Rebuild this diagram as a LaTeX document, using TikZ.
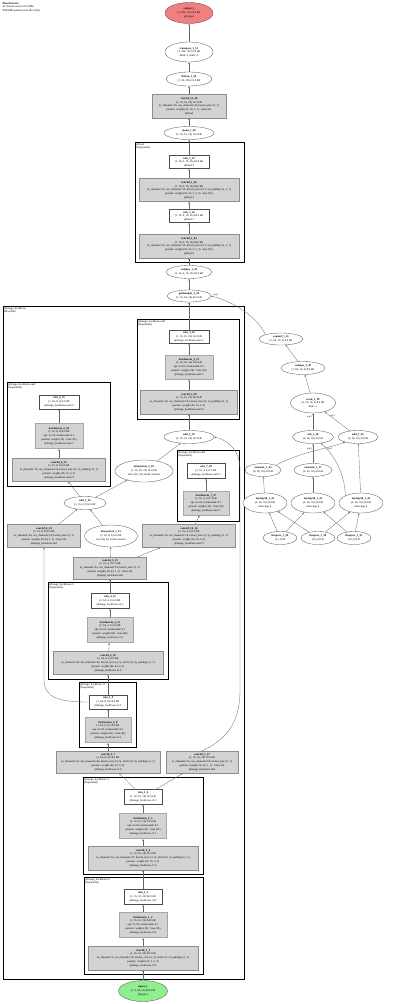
\documentclass[tikz,border=0pt]{standalone}
\usepackage{fontspec}
\setmainfont{Liberation Serif}
\usetikzlibrary{shapes.geometric,arrows.meta}
\definecolor{outred}{HTML}{F08080}
\definecolor{ingreen}{HTML}{90EE90}
\definecolor{nodegray}{HTML}{D3D3D3}
\begin{document}
\begin{tikzpicture}[x=1pt,y=-1pt,
  txt/.style={font=\fontsize{2.8}{3.7}\selectfont, align=center, inner sep=0pt},
  ell/.style={ellipse, draw=black!70, line width=0.3pt, fill=white, inner sep=0pt},
  wbox/.style={rectangle, draw=black!70, line width=0.3pt, fill=white, inner sep=0pt},
  gbox/.style={rectangle, draw=black!45, line width=0.3pt, fill=nodegray, inner sep=0pt},
  bnbox/.style={rectangle, draw=black!35, line width=1pt, fill=nodegray, inner sep=0pt},
  clus/.style={draw=black, line width=0.9pt},
  clab/.style={font=\fontsize{2.8}{3.3}\selectfont, anchor=north west, inner sep=0.4pt, align=left},
  conn/.style={draw=black!60, line width=0.3pt, -{Stealth[length=2pt,width=1.6pt]}},
  elab/.style={font=\fontsize{2.4}{3}\selectfont, inner sep=0.3pt}
]
\useasboundingbox (0,0) rectangle (400,1004);
% header
\node[clab] (hdr) at (2,2) {\textbf{FlowDetector}\\41 tensors total (1.015 MB)\\PARAMS params total (85.3 kB)};

% clusters
\draw[clus] (135,142) rectangle (244,262);
\node[clab] (lhead) at (135.5,142.5) {@head\\(Sequential)};
\draw[clus] (3,306) rectangle (244,979);
\node[clab] (lbb) at (3.5,306.5) {@image\_backbone\\(FlowNet)};
\draw[clus] (137,319) rectangle (239,419);
\node[clab] (lo3) at (137.5,319.5) {@image\_backbone.out3\\(Sequential)};
\draw[clus] (7,382) rectangle (110,486);
\node[clab] (lo4) at (7.5,382.5) {@image\_backbone.out4\\(Sequential)};
\draw[clus] (177,450) rectangle (239,521);
\node[clab] (lo2) at (177.5,450.5) {@image\_backbone.out2\\(Sequential)};
\draw[clus] (48,582) rectangle (168,679);
\node[clab] (lc3) at (48.5,582.5) {@image\_backbone.c3\\(Sequential)};
\draw[clus] (79,682) rectangle (136,747);
\node[clab] (lc2) at (79.5,682.5) {@image\_backbone.c2\\(Sequential)};
\draw[clus] (83,777) rectangle (203,874);
\node[clab] (lc1) at (83.5,777.5) {@image\_backbone.c1\\(Sequential)};
\draw[clus] (84,877) rectangle (203,974);
\node[clab] (lc0) at (84.5,877.5) {@image\_backbone.c0\\(Sequential)};

% spine top
\node[ell, fill=outred, minimum width=48, minimum height=21, label={[txt]center:{\textbf{output\_1}\\(1, 256, 32) 12.0 kB\\@output}}] (out) at (189,13) {};
\node[ell, minimum width=48, minimum height=20, label={[txt]center:{\textbf{transpose\_1\_51}\\(1, 256, 32) 12.0 kB\\dim0=1, dim1=2}}] (tr) at (189,52) {};
\node[ell, minimum width=46, minimum height=14, label={[txt]center:{\textbf{flatten\_1\_50}\\(1, 32, 256) 12.0 kB}}] (fl) at (189,79) {};
\node[gbox, minimum width=74, minimum height=24, label={[txt]center:{\textbf{conv2d\_51\_49}\\(1, 32, 16, 16) 12.0 kB\\in\_channels=16, out\_channels=32, kernel\_size=(1, 1)\\params: weight (32, 16, 1, 1) · bias (32)\\@head}}] (cv51) at (189,106) {};
\node[ell, minimum width=50, minimum height=13, label={[txt]center:{\textbf{mean\_1\_48}\\(1, 16, 16, 16) 16.0 kB}}] (mean) at (189,133) {};
\node[wbox, minimum width=40, minimum height=13, label={[txt]center:{\textbf{relu\_1\_47}\\(1, 16, 4, 16, 16) 64.0 kB\\@head.3}}] (r47) at (189,162) {};
\node[gbox, minimum width=100, minimum height=23, label={[txt]center:{\textbf{conv3d\_1\_46}\\(1, 16, 4, 16, 16) 64.0 kB\\in\_channels=16, out\_channels=16, kernel\_size=(3, 3, 3), padding=(1, 1, 1)\\params: weight (16, 16, 3, 3, 3) · bias (16)\\@head.2}}] (c46) at (189,190) {};
\node[wbox, minimum width=40, minimum height=13, label={[txt]center:{\textbf{relu\_1\_45}\\(1, 16, 4, 16, 16) 64.0 kB\\@head.1}}] (r45) at (189,216) {};
\node[gbox, minimum width=100, minimum height=24, label={[txt]center:{\textbf{conv3d\_1\_44}\\(1, 16, 4, 16, 16) 64.0 kB\\in\_channels=16, out\_channels=16, kernel\_size=(3, 3, 3), padding=(1, 1, 1)\\params: weight (16, 16, 3, 3, 3) · bias (16)\\@head.0}}] (c44) at (189,246) {};
\node[ell, minimum width=46, minimum height=13, label={[txt]center:{\textbf{reshape\_1\_43}\\(1, 16, 4, 16, 16) 64.0 kB}}] (rs43) at (189,272) {};
\node[ell, minimum width=44, minimum height=12, label={[txt]center:{\textbf{gridsample\_1\_42}\\(1, 16, 64, 16) 64.0 kB}}] (g42) at (189,296) {};

% out3
\node[wbox, minimum width=40, minimum height=13, label={[txt]center:{\textbf{relu\_3\_22}\\(1, 16, 16, 16) 16.0 kB\\@image\_backbone.out3.2}}] (r322) at (189,337) {};
\node[bnbox, minimum width=48, minimum height=24, label={[txt]center:{\textbf{batchnorm\_3\_21}\\(1, 16, 16, 16) 16.0 kB\\eps=1e-05, momentum=0.1\\params: weight (16) · bias (16)\\@image\_backbone.out3.1}}] (bn321) at (189,367) {};
\node[gbox, minimum width=97, minimum height=24, label={[txt]center:{\textbf{conv2d\_3\_20}\\(1, 16, 16, 16) 16.0 kB\\in\_channels=16, out\_channels=16, kernel\_size=(3, 3), padding=(1, 1)\\params: weight (16, 16, 3, 3)\\@image\_backbone.out3.0}}] (c320) at (189,402) {};
\node[ell, minimum width=50, minimum height=13, label={[txt]center:{\textbf{add\_2\_19}\\(1, 16, 16, 16) 16.0 kB}}] (a219) at (189,437) {};

% out4
\node[wbox, minimum width=40, minimum height=14, label={[txt]center:{\textbf{relu\_6\_25}\\(1, 16, 8, 8) 4.0 kB\\@image\_backbone.out4.2}}] (r625) at (59,402) {};
\node[bnbox, minimum width=48, minimum height=25, label={[txt]center:{\textbf{batchnorm\_6\_24}\\(1, 16, 8, 8) 4.0 kB\\eps=1e-05, momentum=0.1\\params: weight (16) · bias (16)\\@image\_backbone.out4.1}}] (bn624) at (59,436) {};
\node[gbox, minimum width=93, minimum height=23, label={[txt]center:{\textbf{conv2d\_6\_23}\\(1, 16, 8, 8) 4.0 kB\\in\_channels=16, out\_channels=16, kernel\_size=(3, 3), padding=(1, 1)\\params: weight (16, 16, 3, 3)\\@image\_backbone.out4.0}}] (c623) at (59,470) {};

% out2
\node[wbox, minimum width=38, minimum height=15, label={[txt]center:{\textbf{relu\_7\_28}\\(1, 16, 4, 4) 1.0 kB\\@image\_backbone.out2.2}}] (r728) at (206,471) {};
\node[bnbox, minimum width=46, minimum height=24, label={[txt]center:{\textbf{batchnorm\_7\_27}\\(1, 16, 4, 4) 1.0 kB\\eps=1e-05, momentum=0.1\\params: weight (16) · bias (16)\\@image\_backbone.out2.1}}] (bn727) at (206,503) {};

\node[ell, minimum width=58, minimum height=22, label={[txt]center:{\textbf{interpolate\_2\_18}\\(1, 16, 16, 16) 16.0 kB\\size=(16, 16), mode=nearest}}] (i218) at (144,471) {};
\node[ell, minimum width=42, minimum height=13, label={[txt]center:{\textbf{add\_1\_16}\\(1, 16, 8, 8) 4.0 kB}}] (a116) at (85,503) {};
\node[gbox, minimum width=73, minimum height=23, label={[txt]center:{\textbf{conv2d\_6\_14}\\(1, 16, 8, 8) 4.0 kB\\in\_channels=64, out\_channels=16, kernel\_size=(1, 1)\\params: weight (16, 64, 1, 1) · bias (16)\\@image\_backbone.lat1}}] (c614) at (44,536) {};
\node[ell, minimum width=53, minimum height=22, label={[txt]center:{\textbf{interpolate\_1\_15}\\(1, 16, 8, 8) 4.0 kB\\size=(8, 8), mode=nearest}}] (i115) at (111,536) {};
\node[gbox, minimum width=93, minimum height=23, label={[txt]center:{\textbf{conv2d\_10\_16}\\(1, 16, 4, 4) 1.0 kB\\in\_channels=16, out\_channels=16, kernel\_size=(3, 3), padding=(1, 1)\\params: weight (16, 16, 3, 3)\\@image\_backbone.out2.0}}] (c1016) at (189,536) {};
\node[gbox, minimum width=73, minimum height=22, label={[txt]center:{\textbf{conv2d\_5\_13}\\(1, 16, 4, 4) 1.0 kB\\in\_channels=64, out\_channels=16, kernel\_size=(1, 1)\\params: weight (16, 64, 1, 1) · bias (16)\\@image\_backbone.lat2}}] (c513) at (110,568) {};

% c3
\node[wbox, minimum width=38, minimum height=15, label={[txt]center:{\textbf{relu\_4\_12}\\(1, 64, 4, 4) 4.0 kB\\@image\_backbone.c3.2}}] (r412) at (110,601) {};
\node[bnbox, minimum width=46, minimum height=25, label={[txt]center:{\textbf{batchnorm\_4\_11}\\(1, 64, 4, 4) 4.0 kB\\eps=1e-05, momentum=0.1\\params: weight (64) · bias (64)\\@image\_backbone.c3.1}}] (bn411) at (110,630) {};
\node[gbox, minimum width=110, minimum height=23, label={[txt]center:{\textbf{conv2d\_4\_10}\\(1, 64, 4, 4) 4.0 kB\\in\_channels=64, out\_channels=64, kernel\_size=(3, 3), stride=(2, 2), padding=(1, 1)\\params: weight (64, 64, 3, 3)\\@image\_backbone.c3.0}}] (c410) at (108,663) {};
% c2
\node[wbox, minimum width=38, minimum height=14, label={[txt]center:{\textbf{relu\_3\_9}\\(1, 64, 8, 8) 16.0 kB\\@image\_backbone.c2.2}}] (r39) at (108,702) {};
\node[bnbox, minimum width=46, minimum height=25, label={[txt]center:{\textbf{batchnorm\_3\_8}\\(1, 64, 8, 8) 16.0 kB\\eps=1e-05, momentum=0.1\\params: weight (64) · bias (64)\\@image\_backbone.c2.1}}] (bn38) at (108,730) {};
\node[gbox, minimum width=104, minimum height=22, label={[txt]center:{\textbf{conv2d\_3\_7}\\(1, 64, 8, 8) 16.0 kB\\in\_channels=32, out\_channels=64, kernel\_size=(3, 3), stride=(2, 2), padding=(1, 1)\\params: weight (64, 32, 3, 3)\\@image\_backbone.c2.0}}] (c37) at (108,762) {};
\node[gbox, minimum width=72, minimum height=22, label={[txt]center:{\textbf{conv2d\_7\_17}\\(1, 16, 16, 16) 16.0 kB\\in\_channels=32, out\_channels=16, kernel\_size=(1, 1)\\params: weight (16, 32, 1, 1) · bias (16)\\@image\_backbone.lat3}}] (c717) at (202,762) {};
% c1
\node[wbox, minimum width=38, minimum height=15, label={[txt]center:{\textbf{relu\_2\_6}\\(1, 32, 16, 16) 32.0 kB\\@image\_backbone.c1.2}}] (r26) at (143,797) {};
\node[bnbox, minimum width=47, minimum height=25, label={[txt]center:{\textbf{batchnorm\_2\_5}\\(1, 32, 16, 16) 32.0 kB\\eps=1e-05, momentum=0.1\\params: weight (32) · bias (32)\\@image\_backbone.c1.1}}] (bn25) at (143,826) {};
\node[gbox, minimum width=110, minimum height=24, label={[txt]center:{\textbf{conv2d\_2\_4}\\(1, 32, 16, 16) 32.0 kB\\in\_channels=16, out\_channels=32, kernel\_size=(3, 3), stride=(2, 2), padding=(1, 1)\\params: weight (32, 16, 3, 3)\\@image\_backbone.c1.0}}] (c24) at (143,858) {};
% c0
\node[wbox, minimum width=38, minimum height=15, label={[txt]center:{\textbf{relu\_1\_3}\\(1, 16, 32, 32) 64.0 kB\\@image\_backbone.c0.2}}] (r13) at (143,897) {};
\node[bnbox, minimum width=48, minimum height=25, label={[txt]center:{\textbf{batchnorm\_1\_2}\\(1, 16, 32, 32) 64.0 kB\\eps=1e-05, momentum=0.1\\params: weight (16) · bias (16)\\@image\_backbone.c0.1}}] (bn12) at (143,925) {};
\node[gbox, minimum width=110, minimum height=24, label={[txt]center:{\textbf{conv2d\_1\_1}\\(1, 16, 32, 32) 64.0 kB\\in\_channels=3, out\_channels=16, kernel\_size=(3, 3), stride=(2, 2), padding=(1, 1)\\params: weight (16, 3, 3, 3)\\@image\_backbone.c0.0}}] (c11) at (143,958) {};
\node[ell, fill=ingreen, minimum width=49, minimum height=21, label={[txt]center:{\textbf{input\_1}\\(1, 3, 64, 64) 48.0 kB\\@input.x}}] (inp) at (143,991) {};

% right graph
\node[ell, minimum width=44, minimum height=12, label={[txt]center:{\textbf{expand\_1\_41}\\(1, 64, 16, 2) 8.0 kB}}] (e41) at (281,339) {};
\node[ell, minimum width=44, minimum height=13, label={[txt]center:{\textbf{reshape\_1\_40}\\(1, 64, 16, 2) 8.0 kB}}] (rs40) at (303,368) {};
\node[ell, minimum width=45, minimum height=20, label={[txt]center:{\textbf{stack\_1\_39}\\(4, 16, 16, 2) 8.0 kB\\dim=-1}}] (st39) at (313,403) {};
\node[ell, minimum width=41, minimum height=13, label={[txt]center:{\textbf{sub\_1\_38}\\(4, 16, 16) 4.0 kB}}] (s38) at (313,437) {};
\node[ell, minimum width=40, minimum height=13, label={[txt]center:{\textbf{add\_1\_36}\\(4, 16, 16) 4.0 kB}}] (a36) at (358,437) {};
\node[ell, minimum width=36, minimum height=13, label={[txt]center:{\textbf{cumsum\_1\_35}\\(4, 16, 16) 4.0 kB}}] (cs35) at (263,470) {};
\node[ell, minimum width=38, minimum height=13, label={[txt]center:{\textbf{cumsum\_1\_37}\\(4, 16, 16) 4.0 kB}}] (cs37) at (313,470) {};
\node[ell, minimum width=44, minimum height=20, label={[txt]center:{\textbf{meshgrid\_1\_32}\\(4, 16, 16) 4.0 kB\\indexing=ij}}] (m32) at (265,503) {};
\node[ell, minimum width=44, minimum height=20, label={[txt]center:{\textbf{meshgrid\_1\_33}\\(4, 16, 16) 4.0 kB\\indexing=ij}}] (m33) at (313,503) {};
\node[ell, minimum width=44, minimum height=20, label={[txt]center:{\textbf{meshgrid\_1\_34}\\(4, 16, 16) 4.0 kB\\indexing=ij}}] (m34) at (361,503) {};
\node[ell, minimum width=34, minimum height=13, label={[txt]center:{\textbf{linspace\_1\_29}\\(4,) 16 B}}] (l29) at (280,538) {};
\node[ell, minimum width=34, minimum height=13, label={[txt]center:{\textbf{linspace\_1\_30}\\(16,) 64 B}}] (l30) at (318,538) {};
\node[ell, minimum width=34, minimum height=13, label={[txt]center:{\textbf{linspace\_1\_31}\\(16,) 64 B}}] (l31) at (354,538) {};

% edges spine
\draw[conn] (tr) -- (out);
\draw[conn] (fl) -- (tr);
\draw[conn] (cv51) -- (fl);
\draw[conn] (mean) -- (cv51);
\draw[conn] (r47) -- (mean);
\draw[conn] (c46) -- (r47);
\draw[conn] (r45) -- (c46);
\draw[conn] (c44) -- (r45);
\draw[conn] (rs43) -- (c44);
\draw[conn] (g42) -- (rs43);
\draw[conn] (r322) -- (g42);
\draw[conn] (bn321) -- (r322);
\draw[conn] (c320) -- (bn321);
\draw[conn] (a219) -- (c320);
\draw[conn] (i218) -- (a219);
\draw[conn] (c717.north) .. controls (225,740) and (240,725) .. (240,690) -- (240,470) .. controls (240,450) and (228,440) .. (a219.east);
\draw[conn] (a116) -- (i218);
\draw[conn] (a116) -- (c623);
\draw[conn] (c623) -- (bn624);
\draw[conn] (bn624) -- (r625);
\draw[conn] (c614) -- (a116);
\draw[conn] (i115) -- (a116);
\draw[conn] (c513) -- (i115);
\draw[conn] (c513) -- (c1016);
\draw[conn] (c1016) -- (bn727);
\draw[conn] (bn727) -- (r728);
\draw[conn] (r412) -- (c513);
\draw[conn] (bn411) -- (r412);
\draw[conn] (c410) -- (bn411);
\draw[conn] (r39) -- (c410);
\draw[conn] (r39.west) .. controls (60,702) and (44,698) .. (44,680) -- (c614.south);
\draw[conn] (bn38) -- (r39);
\draw[conn] (c37) -- (bn38);
\draw[conn] (r26) -- (c37);
\draw[conn] (r26) -- (c717);
\draw[conn] (bn25) -- (r26);
\draw[conn] (c24) -- (bn25);
\draw[conn] (r13) -- (c24);
\draw[conn] (bn12) -- (r13);
\draw[conn] (c11) -- (bn12);
\draw[conn] (inp) -- (c11);

% right graph edges
\draw[conn] (e41.north west) .. controls (258,318) and (235,302) .. node[elab, pos=0.93, above=0.6pt] {arg 1} (g42.east);
\draw[conn] (rs40) -- (e41);
\draw[conn] (st39) -- (rs40);
\draw[conn] (s38) -- node[elab, pos=0.75, left=0.5pt] {arg 0} (st39);
\draw[conn] (a36) -- node[elab, pos=0.8, right=0.5pt] {arg 1} (st39);
\draw[conn] (cs37) -- node[elab, pos=0.75, left=0.5pt] {arg 0} (s38);
\draw[conn] (m34.north west) .. controls (345,475) and (335,455) .. node[elab, pos=0.85, right=0.5pt] {arg 1} (s38);
\draw[conn] (cs35.north east) .. controls (300,452) and (330,448) .. (a36);
\draw[conn] (m34) -- (a36);
\draw[conn] (m32) -- (cs35);
\draw[conn] (m33) -- (cs37);
\draw[conn] (l29) -- (m32);
\draw[conn] (l29) -- (m33);
\draw[conn] (l30) -- (m32);
\draw[conn] (l30) -- (m34);
\draw[conn] (l31) -- (m33);
\draw[conn] (l31) -- (m34);
\end{tikzpicture}
\end{document}
